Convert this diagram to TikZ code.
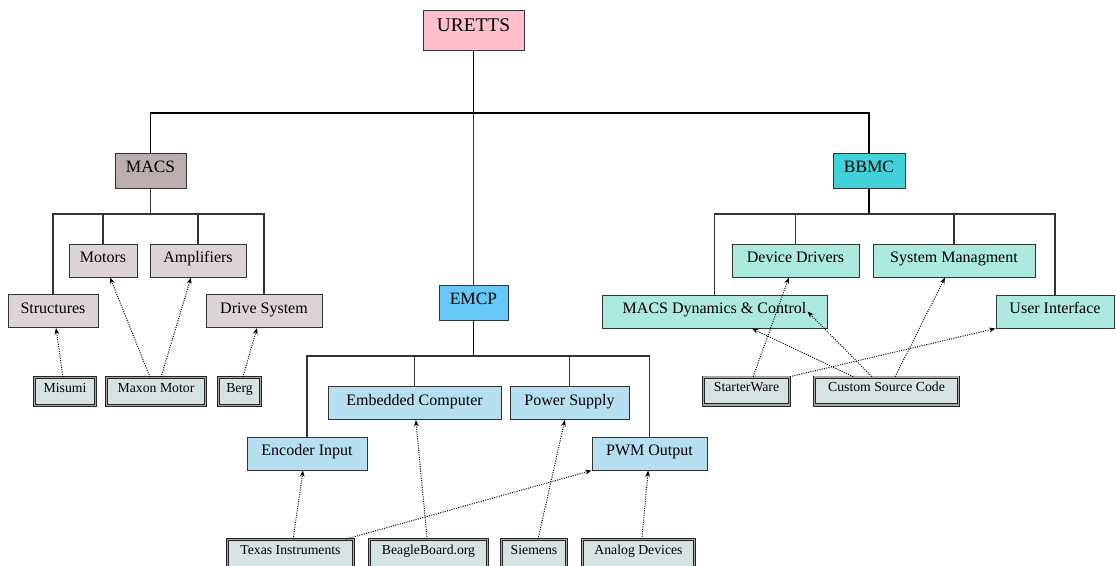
\documentclass[tikz,border=0pt]{standalone}
\usepackage{fontspec}
\setmainfont{Liberation Serif}
\usetikzlibrary{arrows.meta,positioning}

\definecolor{urettspink}{RGB}{255,192,203}
\definecolor{macsdark}{RGB}{188,174,174}
\definecolor{macslight}{RGB}{221,213,213}
\definecolor{emcpdark}{RGB}{102,200,246}
\definecolor{emcplight}{RGB}{182,223,241}
\definecolor{bbmcdark}{RGB}{64,210,216}
\definecolor{bbmclight}{RGB}{172,233,222}
\definecolor{leafgray}{RGB}{214,227,227}

\begin{document}
\begin{tikzpicture}[x=0.75pt,y=-0.75pt,
  box/.style={draw=black!80,line width=0.75pt,inner sep=2pt},
  topbox/.style={box,fill=urettspink,minimum height=30pt,font=\fontsize{14.5}{16}\selectfont,text height=9.6pt,text depth=7.5pt},
  midbox/.style={box,minimum height=26.25pt,font=\fontsize{13}{15}\selectfont,text height=8.6pt,text depth=5.6pt},
  subbox/.style={box,minimum height=24.75pt,font=\fontsize{12}{14}\selectfont,text height=7.9pt,text depth=4.5pt},
  leafbox/.style={draw=black!85,line width=0.7pt,double=black!35,double distance=1pt,fill=leafgray,inner sep=1pt,minimum height=20.85pt,font=\fontsize{10.3}{12}\selectfont,text height=6.8pt,text depth=6pt},
  trunk/.style={line width=1.4pt},
  stem/.style={line width=1.1pt},
  branch/.style={line width=0.8pt,black!80},
  supply/.style={densely dotted,line width=0.75pt,-{Stealth[length=4.8pt,width=3.6pt]}}]
\useasboundingbox (0,0) rectangle (1116,565);

% top levels
\node[topbox,minimum width=75.75pt] (uretts) at (473.5,30) {URETTS};
\node[midbox,fill=macsdark,minimum width=53.25pt] (macs) at (150.5,170.5) {MACS};
\node[midbox,fill=emcpdark,minimum width=51.75pt] (emcp) at (473.5,302.5) {EMCP};
\node[midbox,fill=bbmcdark,minimum width=54pt] (bbmc) at (869,170.5) {BBMC};

% MACS parts
\node[subbox,fill=macslight,minimum width=51pt] (motors) at (103,260.5) {Motors};
\node[subbox,fill=macslight,minimum width=72pt] (amplifiers) at (198,260.5) {Amplifiers};
\node[subbox,fill=macslight,minimum width=67.5pt] (structures) at (53,311) {Structures};
\node[subbox,fill=macslight,minimum width=87pt] (drive) at (264,311) {Drive System};

% EMCP parts
\node[subbox,fill=emcplight,minimum width=129.75pt] (embedded) at (414.5,403) {Embedded Computer};
\node[subbox,fill=emcplight,minimum width=89.25pt] (power) at (569.5,403) {Power Supply};
\node[subbox,fill=emcplight,minimum width=90pt] (encoder) at (307,453.5) {Encoder Input};
\node[subbox,fill=emcplight,minimum width=86.25pt] (pwm) at (649.5,453.5) {PWM Output};

% BBMC parts
\node[subbox,fill=bbmclight,minimum width=95.25pt] (drivers) at (795.5,260.5) {Device Drivers};
\node[subbox,fill=bbmclight,minimum width=121.5pt] (sysman) at (954,260.5) {System Managment};
\node[subbox,fill=bbmclight,minimum width=168.75pt] (macsdyn) at (714.5,311.5) {MACS Dynamics \& Control};
\node[subbox,fill=bbmclight,minimum width=88.5pt] (userif) at (1055,311.5) {User Interface};

% suppliers
\node[leafbox,minimum width=45.6pt] (misumi) at (65,391.5) {Misumi};
\node[leafbox,minimum width=74.1pt] (maxon) at (156,391.5) {Maxon Motor};
\node[leafbox,minimum width=31.35pt] (berg) at (239.5,391.5) {Berg};
\node[leafbox,minimum width=94.35pt] (texas) at (290.5,553.5) {Texas Instruments};
\node[leafbox,minimum width=88.35pt] (beagle) at (428.5,553.5) {BeagleBoard.org};
\node[leafbox,minimum width=48.6pt] (siemens) at (534,553.5) {Siemens};
\node[leafbox,minimum width=83.85pt] (analog) at (638.5,553.5) {Analog Devices};
\node[leafbox,minimum width=64.35pt] (starter) at (746.5,391) {StarterWare};
\node[leafbox,minimum width=107.85pt] (custom) at (886.5,391) {Custom Source Code};

% tree
\coordinate (topbar) at (473.5,113);
\coordinate (macsbar) at (150.5,214);
\coordinate (emcpbar) at (473.5,356);
\coordinate (bbmcbar) at (869,214);
\draw[trunk] (uretts) -- (topbar);
\draw[stem] (topbar) -| (macs);
\draw[stem] (topbar) -| (bbmc);
\draw[branch] (topbar) -- (emcp);
\draw[branch] (macs) -- (macsbar);
\draw[stem] (emcp) -- (emcpbar);
\draw[stem] (bbmc) -- (bbmcbar);
\draw[branch] (macsbar) -| (structures);
\draw[branch] (macsbar) -| (motors);
\draw[branch] (macsbar) -| (amplifiers);
\draw[branch] (macsbar) -| (drive);
\draw[branch] (emcpbar) -| (encoder);
\draw[branch] (emcpbar) -| (embedded);
\draw[branch] (emcpbar) -| (power);
\draw[branch] (emcpbar) -| (pwm);
\draw[branch] (bbmcbar) -| (macsdyn);
\draw[branch] (bbmcbar) -| (drivers);
\draw[branch] (bbmcbar) -| (sysman);
\draw[branch] (bbmcbar) -| (userif);

% supplied by
\draw[supply] ([xshift=-1.5pt]misumi.north) -- ([xshift=2.25pt]structures.south);
\draw[supply] ([xshift=-4.5pt]maxon.north) -- ([xshift=5.25pt]motors.south);
\draw[supply] ([xshift=3.75pt]maxon.north) -- ([xshift=-5.25pt]amplifiers.south);
\draw[supply] ([xshift=2.5pt]berg.north) -- ([xshift=-5.25pt]drive.south);
\draw[supply] ([xshift=2pt]texas.north) -- ([xshift=-3pt]encoder.south);
\draw[supply] ([xshift=-6pt]texas.north east) -- (pwm.south west);
\draw[supply] ([xshift=-1pt]beagle.north) -- ([xshift=1pt]embedded.south);
\draw[supply] ([xshift=3pt]siemens.north) -- ([xshift=-3.5pt]power.south);
\draw[supply] ([xshift=2.5pt]analog.north) -- ([xshift=-1pt]pwm.south);
\draw[supply] ([xshift=5pt]starter.north) -- ([xshift=-5pt]drivers.south);
\draw[supply] (starter.north east) -- (userif.south west);
\draw[supply] ([xshift=-25pt]custom.north) -- ([xshift=28pt]macsdyn.south);
\draw[supply] ([xshift=-11pt]custom.north) -- ([xshift=-15pt]macsdyn.east);
\draw[supply] ([xshift=6.5pt]custom.north) -- ([xshift=-6.75pt]sysman.south);
\end{tikzpicture}
\end{document}
